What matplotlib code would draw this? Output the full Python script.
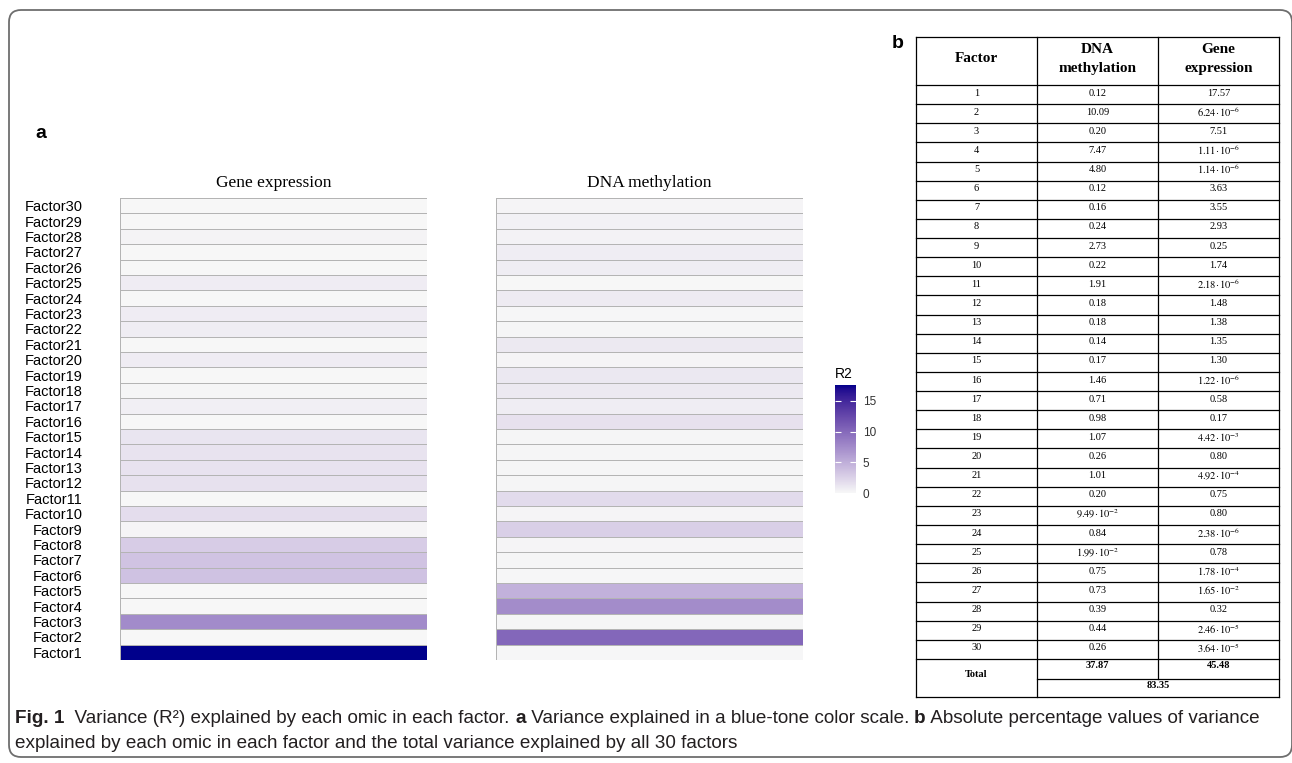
import numpy as np
import matplotlib
matplotlib.use('Agg')
import matplotlib.pyplot as plt
from matplotlib.colors import ListedColormap, Normalize
from matplotlib.patches import FancyBboxPatch
from matplotlib.cm import ScalarMappable

W, H = 1292, 763

factors = [f'Factor{i}' for i in range(1, 31)]
gene_expr = [17.57, 6.24e-6, 7.51, 1.11e-6, 1.14e-6, 3.63, 3.55, 2.93, 0.25, 1.74,
             2.18e-6, 1.48, 1.38, 1.35, 1.30, 1.22e-6, 0.58, 0.17, 4.42e-3, 0.80,
             4.92e-4, 0.75, 0.80, 2.38e-6, 0.78, 1.78e-4, 1.65e-2, 0.32, 2.46e-5, 3.64e-5]
dna_meth = [0.12, 10.09, 0.20, 7.47, 4.80, 0.12, 0.16, 0.24, 2.73, 0.22,
            1.91, 0.18, 0.18, 0.14, 0.17, 1.46, 0.71, 0.98, 1.07, 0.26,
            1.01, 0.20, 9.49e-2, 0.84, 1.99e-2, 0.75, 0.73, 0.39, 0.44, 0.26]
total_dna, total_gene, total_all = 37.87, 45.48, 83.35
cbar_ticks = [0, 5, 10, 15]

plt.rcParams['mathtext.fontset'] = 'stix'


def srgb_to_lab(rgb):
    c = np.asarray(rgb, dtype=float)
    lin = np.where(c <= 0.04045, c / 12.92, ((c + 0.055) / 1.055) ** 2.4)
    m = np.array([[0.4124, 0.3576, 0.1805], [0.2126, 0.7152, 0.0722], [0.0193, 0.1192, 0.9505]])
    xyz = m @ lin / np.array([0.95047, 1.0, 1.08883])
    d = 6 / 29
    f = np.where(xyz > d ** 3, np.cbrt(xyz), xyz / (3 * d * d) + 4 / 29)
    return np.array([116 * f[1] - 16, 500 * (f[0] - f[1]), 200 * (f[1] - f[2])])


def lab_to_srgb(lab):
    L, a, b = lab
    fy = (L + 16) / 116
    fx, fz = fy + a / 500, fy - b / 200
    d = 6 / 29
    f = np.array([fx, fy, fz])
    xyz = np.where(f > d, f ** 3, 3 * d * d * (f - 4 / 29)) * np.array([0.95047, 1.0, 1.08883])
    minv = np.linalg.inv(np.array([[0.4124, 0.3576, 0.1805], [0.2126, 0.7152, 0.0722], [0.0193, 0.1192, 0.9505]]))
    lin = np.clip(minv @ xyz, 0, 1)
    c = np.where(lin <= 0.0031308, 12.92 * lin, 1.055 * lin ** (1 / 2.4) - 0.055)
    return np.clip(c, 0, 1)


# ggplot-like gradient gray97 -> darkblue, interpolated in Lab
lo = srgb_to_lab([247 / 255, 247 / 255, 247 / 255])
hi = srgb_to_lab([0, 0, 139 / 255])
cmap = ListedColormap([lab_to_srgb(lo + t * (hi - lo)) for t in np.linspace(0, 1, 256)])
vmax = max(max(gene_expr), max(dna_meth))
norm = Normalize(0, vmax)

fig = plt.figure(figsize=(W / 100, H / 100), dpi=100)


def px_axes(x0, y0, x1, y1):
    return fig.add_axes([x0 / W, 1 - y1 / H, (x1 - x0) / W, (y1 - y0) / H])


# overlay in pixel coordinates for frame, labels, table, caption
ov = fig.add_axes([0, 0, 1, 1])
ov.set_xlim(0, W)
ov.set_ylim(H, 0)
ov.axis('off')
ov.add_patch(FancyBboxPatch((9, 10), 1283, 747, boxstyle='round,pad=0,rounding_size=12',
                            fill=False, ec='#6e6e6e', lw=1.3))

ov.text(35, 133, 'a', fontsize=14, fontweight='bold', family='Liberation Sans', ha='left', va='center')
ov.text(892, 43, 'b', fontsize=14, fontweight='bold', family='Liberation Sans', ha='left', va='center')

# heatmaps
rows = np.arange(len(factors) + 1)
for x0, vals, title, show_labels in [(120, gene_expr, 'Gene expression', True),
                                     (496, dna_meth, 'DNA methylation', False)]:
    ax = px_axes(x0, 198, x0 + 307, 660)
    ax.pcolormesh([0, 1], rows, np.array(vals)[:, None], cmap=cmap, norm=norm,
                  edgecolors='#b4b4b4', linewidth=0.6)
    ax.set_xlim(0, 1)
    ax.set_ylim(0, len(factors))
    ax.set_xticks([])
    for s in ax.spines.values():
        s.set_visible(False)
    if show_labels:
        ax.set_yticks(rows[:-1] + 0.5)
        ax.set_yticklabels(factors, family='Liberation Sans', fontsize=10.5)
        ax.tick_params(axis='y', length=0, pad=27)
    else:
        ax.set_yticks([])
    ax.set_title(title, family='Liberation Serif', fontsize=12.5, pad=8)

# colorbar
cax = px_axes(835, 385, 856, 493)
cb = fig.colorbar(ScalarMappable(norm=norm, cmap=cmap), cax=cax, ticks=cbar_ticks)
cb.outline.set_visible(False)
cax.tick_params(left=True, right=True, labelleft=False, labelright=True, direction='in',
                length=4, width=0.8, color='white', labelsize=8.5, labelcolor='#333333', pad=5)
for t in cax.get_yticklabels():
    t.set_family('Liberation Sans')
cax.set_title('R2', family='Liberation Sans', fontsize=10, loc='left', pad=5)


# table
def fmt(v):
    if v < 0.1:
        e = int(np.floor(np.log10(v)))
        return r'$%.2f{\cdot}\,10^{%d}$' % (v / 10 ** e, e)
    return f'{v:.2f}'


cols = [916, 1037, 1158, 1279]
cx = [(cols[i] + cols[i + 1]) / 2 for i in range(3)]
top, head_bot, rh = 37, 85, 19.13
data_bot = head_bot + rh * len(factors)
bot = data_bot + 38
lw_t = 0.9
for y in [top] + [head_bot + rh * i for i in range(len(factors) + 1)] + [bot]:
    ov.plot([cols[0], cols[3]], [y, y], color='black', lw=lw_t)
ov.plot([cols[1], cols[3]], [data_bot + 20, data_bot + 20], color='black', lw=lw_t)
for x in [cols[0], cols[1], cols[3]]:
    ov.plot([x, x], [top, bot], color='black', lw=lw_t)
ov.plot([cols[2], cols[2]], [top, data_bot + 20], color='black', lw=lw_t)

hdr = dict(family='Liberation Serif', fontweight='bold', fontsize=11, ha='center', va='center',
           linespacing=1.55)
ov.text(cx[0], 58, 'Factor', **hdr)
ov.text(cx[1], 59, 'DNA\nmethylation', **hdr)
ov.text(cx[2], 59, 'Gene\nexpression', **hdr)
cell = dict(family='Liberation Serif', fontsize=7.5, ha='center', va='center')
for i in range(len(factors)):
    yc = head_bot + rh * (i + 0.5) - 1.5
    ov.text(cx[0], yc, str(i + 1), **cell)
    ov.text(cx[1], yc, fmt(dna_meth[i]), **cell)
    ov.text(cx[2], yc, fmt(gene_expr[i]), **cell)
tot = dict(cell, fontweight='bold')
ov.text(cx[0], data_bot + 16, 'Total', **tot)
ov.text(cx[1], data_bot + 7, f'{total_dna:.2f}', **tot)
ov.text(cx[2], data_bot + 7, f'{total_gene:.2f}', **tot)
ov.text(cols[2], data_bot + 27, f'{total_all:.2f}', **tot)

# caption, pieces chained left to right
cap_font = dict(family='Liberation Sans', fontsize=13.6, color='#231f20')
line1 = [('Fig. 1', 'bold'), ('  Variance (R²) explained by each omic in each factor. ', 'normal'),
         ('a', 'bold'), (' Variance explained in a blue-tone color scale. ', 'normal'),
         ('b', 'bold'), (' Absolute percentage values of variance', 'normal')]
prev = ov.text(15, 723, line1[0][0], fontweight=line1[0][1], ha='left', va='baseline', **cap_font)
for s, wgt in line1[1:]:
    prev = ov.annotate(s, xy=(1, 0), xycoords=prev, ha='left', va='bottom', fontweight=wgt, **cap_font)
ov.text(15, 748, 'explained by each omic in each factor and the total variance explained by all 30 factors',
        ha='left', va='baseline', **cap_font)

fig.savefig('out.png', dpi=100)
